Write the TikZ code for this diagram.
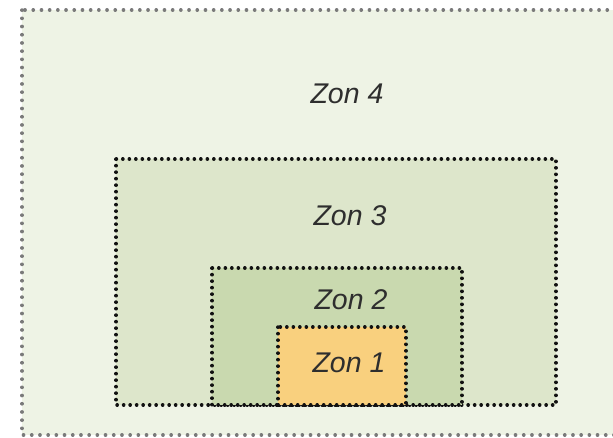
\documentclass[tikz,border=0pt]{standalone}
\usepackage{fontspec}
\setmainfont{Liberation Sans}
\definecolor{zfour}{HTML}{EEF3E5}
\definecolor{zthree}{HTML}{DDE6CB}
\definecolor{ztwo}{HTML}{C9D9AF}
\definecolor{zone}{HTML}{F9D07E}
\definecolor{outerdot}{HTML}{7A7A7A}
\definecolor{innerdot}{HTML}{111111}
\definecolor{txt}{HTML}{2E2E2E}
\tikzset{
  outerbox/.style={draw=outerdot, line width=3.4pt, line cap=round, dash pattern=on 0.3pt off 7.9pt},
  innerbox/.style={draw=innerdot, line width=3.4pt, line cap=round, dash pattern=on 0.3pt off 6.2pt},
  zonelabel/.style={font=\itshape\fontsize{28.5}{31}\selectfont, text=txt, inner sep=0pt, anchor=center}
}
\begin{document}
\begin{tikzpicture}[x=1pt,y=-1pt]
\useasboundingbox (0,0) rectangle (613,437);
\fill[white] (0,0) rectangle (613,437);
\begin{scope}
\clip (0,0) rectangle (613,437);
\filldraw[fill=zfour, outerbox] (22,10) rectangle (640,435);
\end{scope}
\filldraw[fill=zthree, innerbox] (116,159) rectangle (556,405);
\filldraw[fill=ztwo, innerbox] (212,268) rectangle (462,405);
\filldraw[fill=zone, innerbox] (278,327) rectangle (406,405);
\node[zonelabel] (z4) at (347,94) {Zon 4};
\node[zonelabel] (z3) at (350,216) {Zon 3};
\node[zonelabel] (z2) at (351,300) {Zon 2};
\node[zonelabel] (z1) at (349,363) {Zon 1};
\end{tikzpicture}
\end{document}
